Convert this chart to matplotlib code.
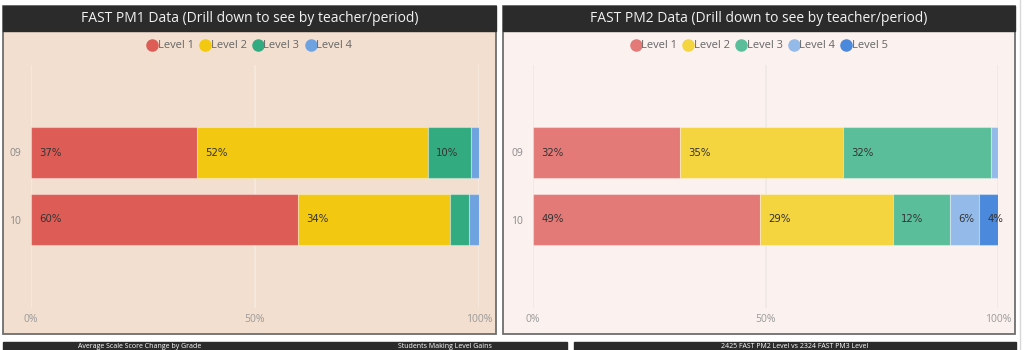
import matplotlib
matplotlib.use("Agg")
import matplotlib.pyplot as plt
from matplotlib.patches import Rectangle
from matplotlib.lines import Line2D

W, H = 1024, 350

categories = ["09", "10"]

pm1_levels = ["Level 1", "Level 2", "Level 3", "Level 4"]
pm1_values = {
    "Level 1": [37.1, 59.6],
    "Level 2": [51.5, 33.9],
    "Level 3": [9.6, 4.3],
    "Level 4": [1.8, 2.2],
}
pm1_labels = {
    "Level 1": ["37%", "60%"],
    "Level 2": ["52%", "34%"],
    "Level 3": ["10%", ""],
    "Level 4": ["", ""],
}
pm1_colors = ["#DD5C56", "#F2C811", "#33AB81", "#6FA3E0"]

pm2_levels = ["Level 1", "Level 2", "Level 3", "Level 4", "Level 5"]
pm2_values = {
    "Level 1": [31.6, 48.8],
    "Level 2": [35.1, 28.6],
    "Level 3": [31.8, 12.3],
    "Level 4": [1.5, 6.2],
    "Level 5": [0.0, 4.1],
}
pm2_labels = {
    "Level 1": ["32%", "49%"],
    "Level 2": ["35%", "29%"],
    "Level 3": ["32%", "12%"],
    "Level 4": ["", "6%"],
    "Level 5": ["", "4%"],
}
pm2_colors = ["#E47A77", "#F4D43F", "#5BBE9A", "#93BAE8", "#4A89DC"]

x_ticks = [0, 50, 100]
x_ticklabels = ["0%", "50%", "100%"]

titles = ["FAST PM1 Data (Drill down to see by teacher/period)",
          "FAST PM2 Data (Drill down to see by teacher/period)"]
bottom_titles = ["Average Scale Score Change by Grade",
                 "Students Making Level Gains",
                 "2425 FAST PM2 Level vs 2324 FAST PM3 Level"]

plt.rcParams['font.family'] = ['Open Sans', 'DejaVu Sans']

fig = plt.figure(figsize=(W / 100, H / 100), dpi=100)
fig.patch.set_facecolor("white")


def fx(px):
    return px / W


def fy(py):
    return 1 - py / H


def rect_px(x0, y0, x1, y1, **kw):
    r = Rectangle((fx(x0), fy(y1)), fx(x1) - fx(x0), fy(y0) - fy(y1),
                  transform=fig.transFigure, **kw)
    fig.patches.append(r)


# right-side faint line
fig.add_artist(Line2D([fx(1019.5), fx(1019.5)], [0, 1], transform=fig.transFigure,
                      color="#D8D8D8", lw=1))

panels = [
    dict(x0=3, x1=496, bg="#F3DFCF", grid="#F7E9DE", ax0=31, ax1=479, levels=pm1_levels,
         values=pm1_values, labels=pm1_labels, colors=pm1_colors, title=titles[0]),
    dict(x0=503, x1=1015, bg="#FBF1EE", grid="#EEE8E4", ax0=533, ax1=998, levels=pm2_levels,
         values=pm2_values, labels=pm2_labels, colors=pm2_colors, title=titles[1]),
]

for p in panels:
    # panel background with border
    rect_px(p["x0"], 6, p["x1"], 334, facecolor=p["bg"], edgecolor="#6E6E6E", lw=1.3, zorder=0)
    # title bar
    rect_px(p["x0"], 6, p["x1"], 31, facecolor="#2B2B2B", edgecolor="#2B2B2B", lw=1.0, zorder=1)
    fig.text(fx((p["x0"] + p["x1"]) / 2), fy(18.5), p["title"], color="#F2F2F2",
             fontsize=10, ha="center", va="center", zorder=2)

    # axes
    top_px, bot_px = 65, 308
    ax = fig.add_axes([fx(p["ax0"]), fy(bot_px), fx(p["ax1"]) - fx(p["ax0"]),
                       fy(top_px) - fy(bot_px)])
    ax.set_zorder(3)
    ax.set_facecolor("none")
    ax.patch.set_alpha(0)
    ax.set_xlim(0, 100)
    c0, pitch = 152.5, 67.0
    ax.set_ylim(1 + (bot_px - (c0 + pitch)) / pitch, -(c0 - top_px) / pitch)
    for s in ax.spines.values():
        s.set_visible(False)
    ax.set_xticks(x_ticks)
    ax.set_xticklabels(x_ticklabels)
    ax.tick_params(axis="x", length=0, pad=4, labelsize=7.5, labelcolor="#9A9A9A")
    ax.set_yticks(range(len(categories)))
    ax.set_yticklabels(categories)
    ax.tick_params(axis="y", length=0, pad=7, labelsize=7.5, labelcolor="#8A8A8A")
    ax.grid(axis="x", color=p["grid"], lw=1.2)
    ax.set_axisbelow(True)

    left = [0.0] * len(categories)
    ypos = list(range(len(categories)))
    for lvl, col in zip(p["levels"], p["colors"]):
        vals = p["values"][lvl]
        ax.barh(ypos, vals, left=left, height=51 / 67, color=col,
                edgecolor=(1, 1, 1, 0.35), linewidth=0.8)
        for i, (v, lab) in enumerate(zip(vals, p["labels"][lvl])):
            if lab:
                ax.annotate(lab, xy=(left[i], i), xytext=(6, 0), textcoords="offset points",
                            ha="left", va="center", fontsize=7.3, color="#333333",
                            family=["DejaVu Sans Condensed", "DejaVu Sans"])
        left = [a + b for a, b in zip(left, vals)]

    # legend
    handles = [Line2D([], [], marker="o", ls="", color=c, markersize=8)
               for c in p["colors"]]
    fig.legend(handles, p["levels"], loc="center",
               bbox_to_anchor=(fx((p["x0"] + p["x1"]) / 2), fy(46)),
               ncol=len(p["levels"]), frameon=False, fontsize=8,
               handletextpad=0.0, columnspacing=0.5, labelcolor="#666666",
               borderpad=0, handlelength=1.0)

# bottom cut-off title bars
rect_px(3, 342, 567, 352, facecolor="#2B2B2B", edgecolor="#2B2B2B", lw=1, zorder=1)
rect_px(574, 342, 1016, 352, facecolor="#2B2B2B", edgecolor="#2B2B2B", lw=1, zorder=1)
fig.text(fx(140), fy(346.5), bottom_titles[0], color="white", fontsize=5,
         ha="center", va="center", zorder=2)
fig.text(fx(445), fy(346.5), bottom_titles[1], color="white", fontsize=5,
         ha="center", va="center", zorder=2)
fig.text(fx(795), fy(346.5), bottom_titles[2], color="white", fontsize=5,
         ha="center", va="center", zorder=2)

fig.savefig("out.png", dpi=100, facecolor=fig.get_facecolor())
